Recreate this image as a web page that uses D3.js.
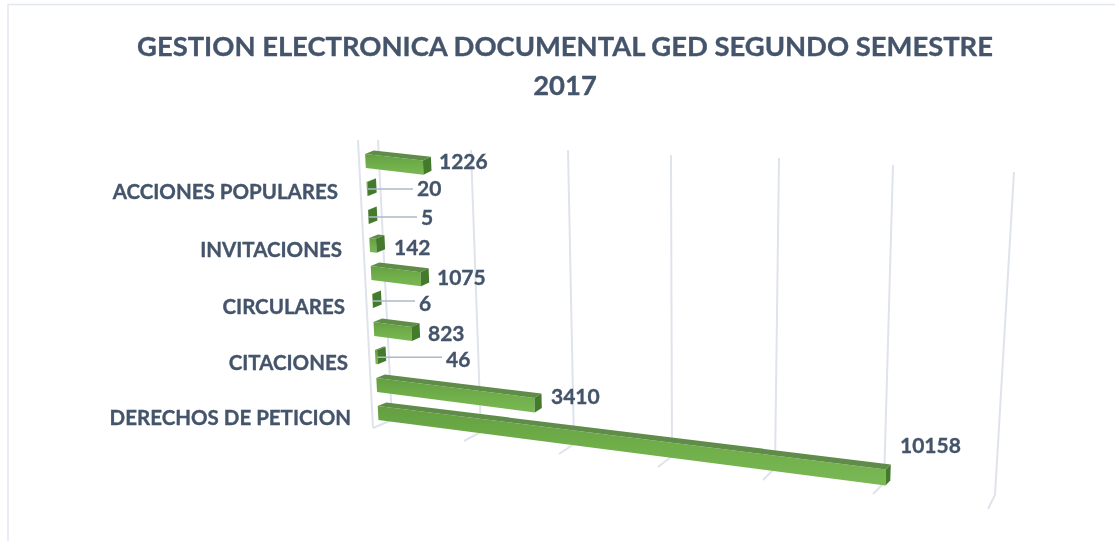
<!DOCTYPE html>
<html><head><meta charset="utf-8">
<script src="https://cdn.jsdelivr.net/npm/d3@7"></script>
<style>html,body{margin:0;padding:0;background:#fff}svg{display:block;filter:blur(0.4px)}text{font-family:Lato,"Open Sans",sans-serif;font-weight:700;fill:#44546a;stroke:#44546a;stroke-width:0.35px}</style>
</head><body><svg id="c" width="1115" height="541"></svg>
<script>
const titleLines = ["GESTION ELECTRONICA DOCUMENTAL GED SEGUNDO SEMESTRE", "2017"];
const categories = ["DERECHOS DE PETICION","","CITACIONES","","CIRCULARES","","INVITACIONES","","ACCIONES POPULARES",""];
const values = [10158,3410,46,823,6,1075,142,5,20,1226];
const axisTicks = [0,2000,4000,6000,8000,10000,12000];
const frontX = [373,464,559,658,763,873,988], frontY = [428,441,454,467,480,494,509];
const backX  = [392,481,574,672,775,884,995], backY  = [420,432,444,456,468,483,495];
const topX   = [378,471,568,671,779,893,1014], topY  = [140,150,150,155,158,165,172];
const labelX = [900,551,446,428,419,437,394,421,417,439], labelY = [453,404,367,341,311,285,255,225,196,169];
const catLabelEnd = [351,null,348,null,345,null,342,null,338,null], catLabelY=[425,null,370,null,314,null,257,null,199,null];
const leaderEnd = [null,null,442,null,415,null,null,417,413,null];

const svg = d3.select("#c");
const sc = r => d3.scaleLinear().domain(axisTicks).range(r).clamp(false);
const fx=sc(frontX),fy=sc(frontY),bx=sc(backX),by=sc(backY),tx=sc(topX),ty=sc(topY);
const P=(v,d,h)=>[fx(v)+d*(bx(v)-fx(v))+h*(tx(v)-bx(v)), fy(v)+d*(by(v)-fy(v))+h*(ty(v)-by(v))];
const rows=d3.scaleBand().domain(d3.range(values.length)).range([-0.005,0.995]).paddingInner(0.5).paddingOuter(0.25);
const line=d3.line();
const poly=pts=>line(pts)+"Z";

// frame
svg.append("path").attr("d","M8,541V4.5H1115").attr("fill","none").attr("stroke","#e3e8f0").attr("stroke-width",1.5);

// gridlines
const grid=svg.append("g").attr("fill","none").attr("stroke","#dfe3ec").attr("stroke-width",2);
axisTicks.forEach(t=>{
  grid.append("path").attr("d",line([[tx(t),ty(t)],[bx(t),by(t)],[fx(t),fy(t)]]));
});
grid.append("path").attr("d",line([[fx(0)-15,ty(0)],[fx(0),fy(0)]]));

// defs
const defs=svg.append("defs");
const g=defs.append("linearGradient").attr("id","face").attr("x1",0).attr("y1",0).attr("x2",0).attr("y2",1);
g.append("stop").attr("offset",0).attr("stop-color","#639f40");
g.append("stop").attr("offset",0.5).attr("stop-color","#70ae4a");
g.append("stop").attr("offset",1).attr("stop-color","#79b854");
const d0=0.3,d1=0.75;

// bars
values.forEach((v,i)=>{
  const h0=rows(i), h1=h0+rows.bandwidth();
  const a=P(0,d0,h0),b=P(v,d0,h0),c=P(v,d0,h1),e=P(0,d0,h1);
  const f=P(0,d1,h1),k=P(v,d1,h1),m=P(v,d1,h0);
  svg.append("path").attr("d",poly([a,b,c,e])).attr("fill","url(#face)");
  svg.append("path").attr("d",poly([e,c,k,f])).attr("fill","#5f8c48");
  svg.append("path").attr("d",poly([b,m,k,c])).attr("fill","#447a2c");
  if(leaderEnd[i]!=null){
    const o=P(v,d0,(h0+h1)/2);
    svg.append("line").attr("x1",o[0]).attr("x2",leaderEnd[i]).attr("y1",o[1]).attr("y2",o[1]).attr("stroke","#adb9ca").attr("stroke-width",1.5);
  }
});

// labels
values.forEach((v,i)=>{
  svg.append("text").attr("x",labelX[i]).attr("y",labelY[i]).attr("font-size",21).text(v);
});
categories.forEach((c,i)=>{
  if(c) svg.append("text").attr("x",catLabelEnd[i]).attr("y",catLabelY[i]).attr("text-anchor","end").attr("font-size",20.5).text(c);
});
titleLines.forEach((t,i)=>{
  svg.append("text").attr("x",565).attr("y",[56,95][i]).attr("text-anchor","middle").attr("font-size",27.4).text(t);
});
</script></body></html>
